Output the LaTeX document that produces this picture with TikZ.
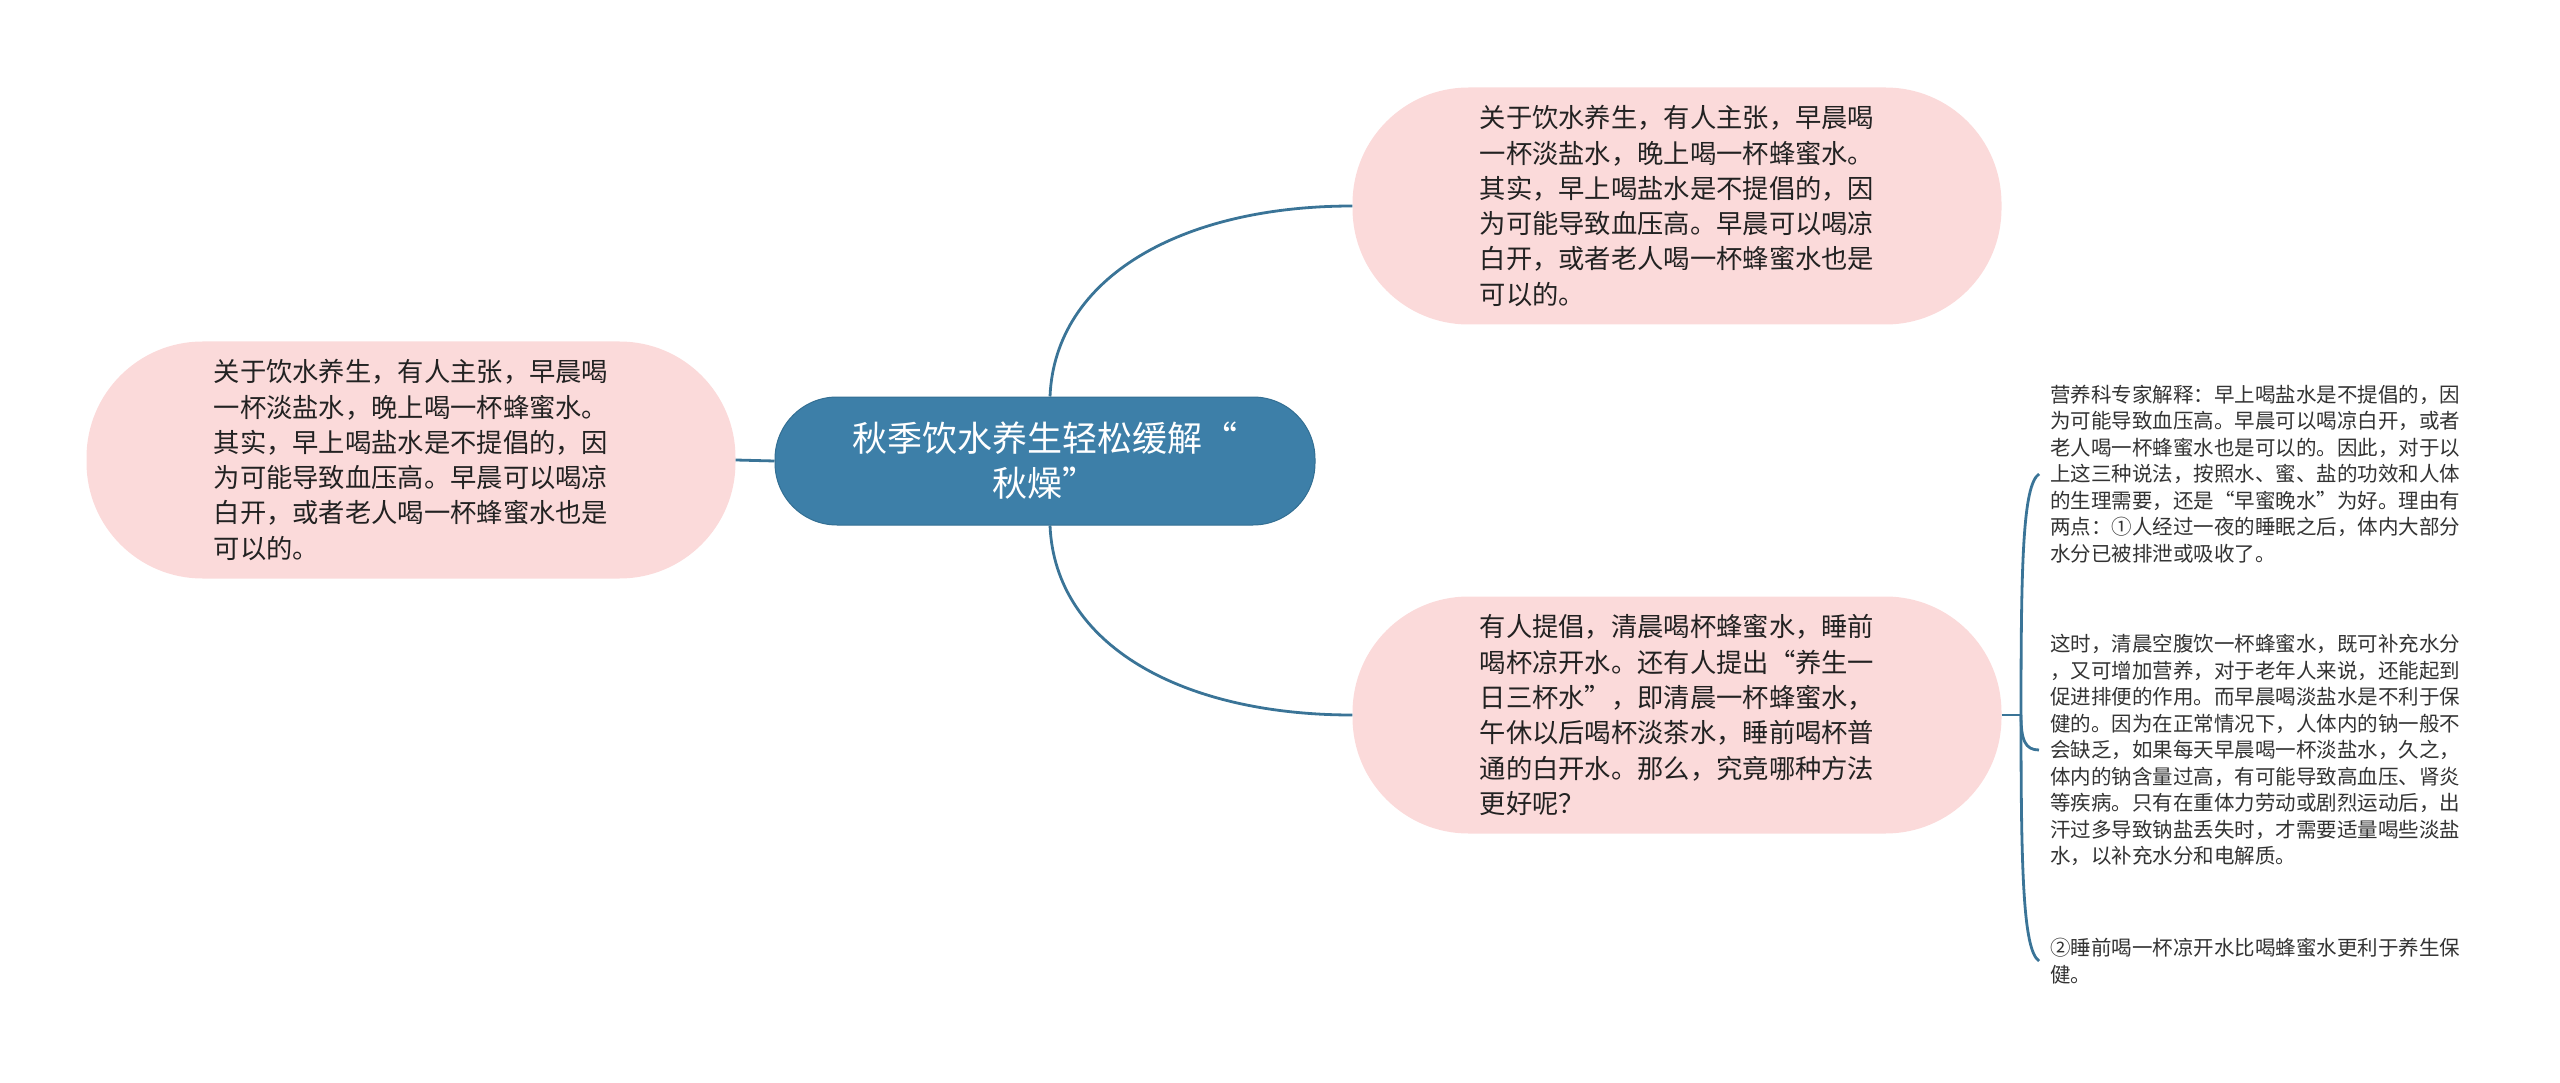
\documentclass[tikz,border=0pt]{standalone}
\usepackage{fontspec}
\setmainfont{Noto Sans CJK SC}
\usetikzlibrary{positioning}
\definecolor{rootblue}{HTML}{3D7FA8}
\definecolor{rootedge}{HTML}{336F93}
\definecolor{linkblue}{HTML}{3A7497}
\definecolor{pinkfill}{HTML}{FBDADA}
\definecolor{textdark}{HTML}{222222}
\definecolor{textgrey}{HTML}{333333}

\begin{document}
\begin{tikzpicture}[x=1pt,y=-1pt,
  link/.style={draw=linkblue,line width=2.8pt},
  rootnode/.style={fill=rootblue,draw=rootedge,line width=1pt,rounded corners=62pt,minimum width=540pt,minimum height=128pt,text=white,align=center,font=\fontsize{35}{45}\selectfont},
  pinknode/.style={fill=pinkfill,rounded corners=116pt,minimum width=649pt,minimum height=237pt,align=left,text=textdark,font=\fontsize{26.3}{35.3}\selectfont},
  leafnode/.style={anchor=west,inner xsep=11pt,inner ysep=0pt,align=left,text=textgrey,font=\fontsize{20.5}{26.5}\selectfont}]
        \useasboundingbox (0,0) rectangle (2560,1083);
        \node [rootnode] (root) at (1045,461) {秋季饮水养生轻松缓解“\\秋燥”};
        \node [pinknode] (saltleft) at (411,460) {关于饮水养生，有人主张，早晨喝\\一杯淡盐水，晚上喝一杯蜂蜜水。\\其实，早上喝盐水是不提倡的，因\\为可能导致血压高。早晨可以喝凉\\白开，或者老人喝一杯蜂蜜水也是\\可以的。};
        \node [pinknode] (saltright) at (1677,206) {关于饮水养生，有人主张，早晨喝\\一杯淡盐水，晚上喝一杯蜂蜜水。\\其实，早上喝盐水是不提倡的，因\\为可能导致血压高。早晨可以喝凉\\白开，或者老人喝一杯蜂蜜水也是\\可以的。};
        \node [pinknode] (threecups) at (1677,715) {有人提倡，清晨喝杯蜂蜜水，睡前\\喝杯凉开水。还有人提出“养生一\\日三杯水”，即清晨一杯蜂蜜水，\\午休以后喝杯淡茶水，睡前喝杯普\\通的白开水。那么，究竟哪种方法\\更好呢？};
        \node [leafnode] (expert) at (2039,474) {营养科专家解释：早上喝盐水是不提倡的，因\\为可能导致血压高。早晨可以喝凉白开，或者\\老人喝一杯蜂蜜水也是可以的。因此，对于以\\上这三种说法，按照水、蜜、盐的功效和人体\\的生理需要，还是“早蜜晚水”为好。理由有\\两点：①人经过一夜的睡眠之后，体内大部分\\水分已被排泄或吸收了。};
        \node [leafnode] (morning) at (2039,750) {这时，清晨空腹饮一杯蜂蜜水，既可补充水分\\，又可增加营养，对于老年人来说，还能起到\\促进排便的作用。而早晨喝淡盐水是不利于保\\健的。因为在正常情况下，人体内的钠一般不\\会缺乏，如果每天早晨喝一杯淡盐水，久之，\\体内的钠含量过高，有可能导致高血压、肾炎\\等疾病。只有在重体力劳动或剧烈运动后，出\\汗过多导致钠盐丢失时，才需要适量喝些淡盐\\水，以补充水分和电解质。};
        \node [leafnode] (night) at (2039,961) {②睡前喝一杯凉开水比喝蜂蜜水更利于养生保\\健。};
        \coordinate (fork) at (2021,715);
        \draw [link] (root.west) -- (saltleft.east);
        \draw [link] ([xshift=5pt]root.north) .. controls +(5,-120) and +(-170,0) .. (saltright.west);
        \draw [link] ([xshift=5pt]root.south) .. controls +(5,120) and +(-170,0) .. (threecups.west);
        \draw [link] (threecups.east) -- (fork);
        \draw [link] (fork) .. controls (2021,560) and (2023,485) .. (expert.west);
        \draw [link] (fork) .. controls (2021,740) and (2025,750) .. (morning.west);
        \draw [link] (fork) .. controls (2021,870) and (2023,950) .. (night.west);
\end{tikzpicture}
\end{document}
